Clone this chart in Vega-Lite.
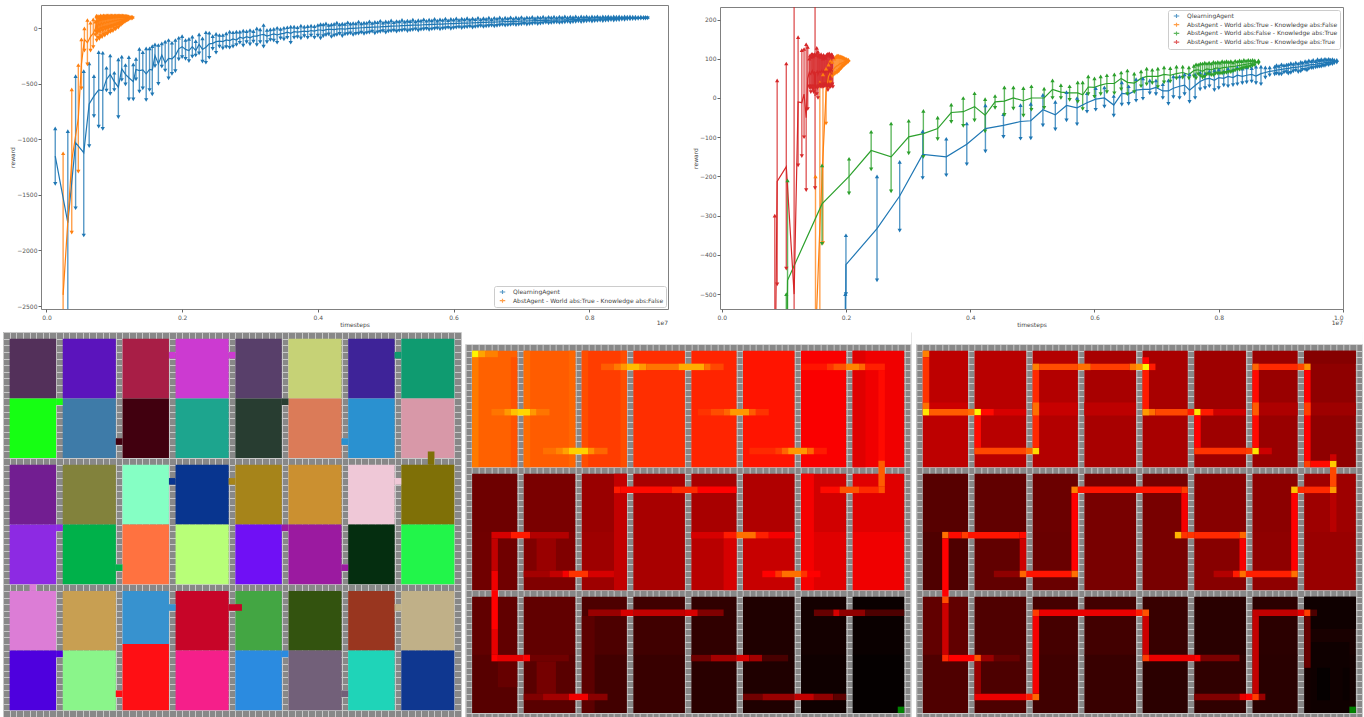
{"$schema":"https://vega.github.io/schema/vega-lite/v6.json","background":"white","padding":{"left":3,"top":4,"right":0,"bottom":0},
"config":{"view":{"stroke":null},"axis":{"grid":false,"domain":false,"labelFont":"DejaVu Sans","labelFontSize":6,"labelColor":"#555555","titleFont":"DejaVu Sans","titleFontSize":6,"titleFontWeight":"normal","titleColor":"#444444","tickColor":"#666666","tickSize":3,"labelPadding":2,"titlePadding":1},"legend":{"labelFont":"DejaVu Sans","labelFontSize":6,"labelColor":"#444444","labelLimit":300,"labelOffset":4,"fillColor":"white","strokeColor":"#cccccc","padding":2,"rowPadding":0.7,"cornerRadius":2,"titleFontSize":0,"clipHeight":8}},
"datasets":{
"L":[
{"a":"Q","x":0.013,"m":-1150,"l":-1400,"h":-900},{"a":"Q","x":0.0315,"m":-1750,"l":-2600,"h":-925},{"a":"Q","x":0.043,"m":-1030,"l":-1620,"h":-430},{"a":"Q","x":0.055,"m":-1120,"l":-1865,"h":-385},{"a":"Q","x":0.063,"m":-680,"l":-1060,"h":-315},{"a":"Q","x":0.07,"m":-610,"l":-790,"h":-430},{"a":"Q","x":0.077,"m":-555,"l":-885,"h":-215},{"a":"Q","x":0.083,"m":-560,"l":-905,"h":-220},{"a":"Q","x":0.0885,"m":-460,"l":-560,"h":-355},{"a":"Q","x":0.094,"m":-415,"l":-590,"h":-245},{"a":"Q","x":0.1,"m":-480,"l":-555,"h":-400},{"a":"Q","x":0.106,"m":-530,"l":-800,"h":-280},{"a":"Q","x":0.111,"m":-365,"l":-465,"h":-255},{"a":"Q","x":0.1165,"m":-415,"l":-505,"h":-330},{"a":"Q","x":0.1215,"m":-445,"l":-640,"h":-260},{"a":"Q","x":0.128,"m":-480,"l":-640,"h":-325},{"a":"Q","x":0.132,"m":-370,"l":-460,"h":-275},{"a":"Q","x":0.137,"m":-380,"l":-570,"h":-185},{"a":"Q","x":0.142,"m":-375,"l":-540,"h":-215},{"a":"Q","x":0.147,"m":-410,"l":-645,"h":-180},{"a":"Q","x":0.152,"m":-370,"l":-555,"h":-180},{"a":"Q","x":0.156,"m":-375,"l":-595,"h":-160},{"a":"Q","x":0.16,"m":-245,"l":-340,"h":-145},{"a":"Q","x":0.165,"m":-320,"l":-500,"h":-150},{"a":"Q","x":0.17,"m":-240,"l":-345,"h":-135},{"a":"Q","x":0.175,"m":-310,"l":-380,"h":-120},{"a":"Q","x":0.18,"m":-270,"l":-450,"h":-105},{"a":"Q","x":0.185,"m":-275,"l":-410,"h":-130},{"a":"Q","x":0.19,"m":-245,"l":-385,"h":-105},{"a":"Q","x":0.195,"m":-185,"l":-280,"h":-85},{"a":"Q","x":0.2,"m":-165,"l":-260,"h":-70},{"a":"Q","x":0.205,"m":-190,"l":-275,"h":-105},{"a":"Q","x":0.21,"m":-200,"l":-295,"h":-95},{"a":"Q","x":0.215,"m":-165,"l":-255,"h":-75},{"a":"Q","x":0.22,"m":-200,"l":-245,"h":-115},{"a":"Q","x":0.225,"m":-145,"l":-225,"h":-55},{"a":"Q","x":0.23,"m":-190,"l":-300,"h":-90},{"a":"Q","x":0.235,"m":-170,"l":-310,"h":-35},{"a":"Q","x":0.24,"m":-140,"l":-265,"h":-40},{"a":"Q","x":0.245,"m":-135,"l":-185,"h":-70},{"a":"Q","x":0.25,"m":-120,"l":-220,"h":-50},{"a":"Q","x":0.255,"m":-115,"l":-165,"h":-60},{"a":"Q","x":0.26,"m":-120,"l":-180,"h":-60},{"a":"Q","x":0.265,"m":-105,"l":-170,"h":-45},{"a":"Q","x":0.27,"m":-110,"l":-175,"h":-30},{"a":"Q","x":0.275,"m":-95,"l":-165,"h":-35},{"a":"Q","x":0.28,"m":-105,"l":-150,"h":-30},{"a":"Q","x":0.285,"m":-80,"l":-130,"h":-30},{"a":"Q","x":0.29,"m":-90,"l":-155,"h":-20},{"a":"Q","x":0.295,"m":-75,"l":-125,"h":-25},{"a":"Q","x":0.3,"m":-85,"l":-145,"h":-15},{"a":"Q","x":0.305,"m":-70,"l":-120,"h":-25},{"a":"Q","x":0.31,"m":-70,"l":-150,"h":0},{"a":"Q","x":0.315,"m":-60,"l":-125,"h":-10},{"a":"Q","x":0.32,"m":-55,"l":-165,"h":30},{"a":"Q","x":0.325,"m":-70,"l":-125,"h":-15},{"a":"Q","x":0.33,"m":-60,"l":-105,"h":-10},{"a":"Q","x":0.335,"m":-50,"l":-110,"h":-5},{"a":"Q","x":0.34,"m":-60,"l":-130,"h":5},{"a":"Q","x":0.345,"m":-50,"l":-90,"h":-5},{"a":"Q","x":0.35,"m":-45,"l":-100,"h":5},{"a":"Q","x":0.355,"m":-35,"l":-85,"h":10},{"a":"Q","x":0.36,"m":-45,"l":-130,"h":15},{"a":"Q","x":0.365,"m":-30,"l":-85,"h":15},{"a":"Q","x":0.37,"m":-35,"l":-80,"h":10},{"a":"Q","x":0.375,"m":-30,"l":-90,"h":25},{"a":"Q","x":0.38,"m":-25,"l":-70,"h":15},{"a":"Q","x":0.385,"m":-30,"l":-85,"h":20},{"a":"Q","x":0.39,"m":-20,"l":-65,"h":25},{"a":"Q","x":0.395,"m":-25,"l":-85,"h":20},{"a":"Q","x":0.4,"m":-15,"l":-65,"h":30},{"a":"Q","x":0.408,"m":-20,"l":-70,"h":35},{"a":"Q","x":0.416,"m":-10,"l":-55,"h":30},{"a":"Q","x":0.424,"m":-12,"l":-65,"h":40},{"a":"Q","x":0.432,"m":-5,"l":-50,"h":35},{"a":"Q","x":0.44,"m":-8,"l":-55,"h":40},{"a":"Q","x":0.448,"m":0,"l":-45,"h":42},{"a":"Q","x":0.456,"m":2,"l":-50,"h":45},{"a":"Q","x":0.464,"m":5,"l":-38,"h":45},{"a":"Q","x":0.472,"m":8,"l":-42,"h":50},{"a":"Q","x":0.48,"m":10,"l":-30,"h":48},{"a":"Q","x":0.488,"m":12,"l":-35,"h":55},{"a":"Q","x":0.496,"m":15,"l":-25,"h":52},{"a":"Q","x":0.504,"m":18,"l":-28,"h":58},{"a":"Q","x":0.512,"m":20,"l":-20,"h":55},{"a":"Q","x":0.52,"m":22,"l":-22,"h":62},{"a":"Q","x":0.528,"m":25,"l":-15,"h":60},{"a":"Q","x":0.536,"m":27,"l":-18,"h":65},{"a":"Q","x":0.544,"m":28,"l":-10,"h":62},{"a":"Q","x":0.552,"m":30,"l":-12,"h":70},{"a":"Q","x":0.56,"m":33,"l":-5,"h":68},{"a":"Q","x":0.568,"m":35,"l":-8,"h":72},{"a":"Q","x":0.576,"m":37,"l":0,"h":70},{"a":"Q","x":0.584,"m":38,"l":-3,"h":75},{"a":"Q","x":0.592,"m":41,"l":5,"h":73},{"a":"Q","x":0.6,"m":43,"l":2,"h":78},{"a":"Q","x":0.608,"m":44,"l":10,"h":76},{"a":"Q","x":0.616,"m":47,"l":8,"h":80},{"a":"Q","x":0.624,"m":48,"l":15,"h":78},{"a":"Q","x":0.632,"m":50,"l":12,"h":82},{"a":"Q","x":0.64,"m":52,"l":20,"h":80},{"a":"Q","x":0.648,"m":54,"l":18,"h":85},{"a":"Q","x":0.656,"m":56,"l":25,"h":83},{"a":"Q","x":0.664,"m":57,"l":22,"h":87},{"a":"Q","x":0.672,"m":59,"l":30,"h":85},{"a":"Q","x":0.68,"m":61,"l":28,"h":90},{"a":"Q","x":0.688,"m":62,"l":35,"h":87},{"a":"Q","x":0.696,"m":64,"l":33,"h":92},{"a":"Q","x":0.704,"m":66,"l":40,"h":90},{"a":"Q","x":0.712,"m":67,"l":38,"h":95},{"a":"Q","x":0.72,"m":69,"l":45,"h":92},{"a":"Q","x":0.728,"m":70,"l":43,"h":97},{"a":"Q","x":0.736,"m":72,"l":50,"h":94},{"a":"Q","x":0.744,"m":73,"l":48,"h":98},{"a":"Q","x":0.752,"m":74,"l":54,"h":96},{"a":"Q","x":0.76,"m":76,"l":52,"h":100},{"a":"Q","x":0.768,"m":77,"l":58,"h":98},{"a":"Q","x":0.776,"m":78,"l":56,"h":101},{"a":"Q","x":0.784,"m":79,"l":62,"h":99},{"a":"Q","x":0.792,"m":81,"l":60,"h":103},{"a":"Q","x":0.8,"m":82,"l":66,"h":101},{"a":"Q","x":0.808,"m":83,"l":65,"h":104},{"a":"Q","x":0.816,"m":85,"l":70,"h":102},{"a":"Q","x":0.824,"m":86,"l":69,"h":105},{"a":"Q","x":0.832,"m":87,"l":74,"h":103},{"a":"Q","x":0.84,"m":89,"l":73,"h":106},{"a":"Q","x":0.848,"m":90,"l":78,"h":104},{"a":"Q","x":0.856,"m":92,"l":80,"h":106},{"a":"Q","x":0.864,"m":93,"l":83,"h":105},{"a":"Q","x":0.872,"m":94,"l":85,"h":104},{"a":"Q","x":0.88,"m":95,"l":88,"h":103},{"a":"Q","x":0.886,"m":96,"l":90,"h":102},
{"a":"Q","x":0.404,"m":-15,"l":-90,"h":38},{"a":"Q","x":0.412,"m":-12,"l":-62,"h":45},{"a":"Q","x":0.42,"m":-10,"l":-78,"h":36},{"a":"Q","x":0.428,"m":-8,"l":-60,"h":52},{"a":"Q","x":0.436,"m":-5,"l":-70,"h":42},{"a":"Q","x":0.444,"m":-2,"l":-52,"h":55},{"a":"Q","x":0.452,"m":0,"l":-60,"h":48},{"a":"Q","x":0.46,"m":3,"l":-48,"h":60},{"a":"Q","x":0.468,"m":6,"l":-50,"h":52},{"a":"Q","x":0.476,"m":9,"l":-38,"h":62},{"a":"Q","x":0.484,"m":10,"l":-45,"h":58},{"a":"Q","x":0.492,"m":13,"l":-32,"h":68},{"a":"Q","x":0.5,"m":16,"l":-38,"h":62},{"a":"Q","x":0.508,"m":19,"l":-26,"h":72},{"a":"Q","x":0.516,"m":21,"l":-30,"h":66},{"a":"Q","x":0.524,"m":24,"l":-20,"h":76},{"a":"Q","x":0.532,"m":26,"l":-25,"h":70},{"a":"Q","x":0.54,"m":28,"l":-15,"h":78},{"a":"Q","x":0.548,"m":29,"l":-20,"h":74},{"a":"Q","x":0.556,"m":32,"l":-10,"h":82},{"a":"Q","x":0.564,"m":34,"l":-14,"h":78},{"a":"Q","x":0.572,"m":36,"l":-5,"h":85},{"a":"Q","x":0.58,"m":37,"l":-10,"h":82},{"a":"Q","x":0.588,"m":40,"l":0,"h":88},{"a":"Q","x":0.596,"m":42,"l":-5,"h":85},{"a":"Q","x":0.604,"m":44,"l":5,"h":90},{"a":"Q","x":0.612,"m":46,"l":2,"h":88},{"a":"Q","x":0.62,"m":47,"l":10,"h":92},{"a":"Q","x":0.628,"m":49,"l":7,"h":90},{"a":"Q","x":0.636,"m":51,"l":15,"h":95},{"a":"Q","x":0.644,"m":53,"l":12,"h":92},{"a":"Q","x":0.652,"m":55,"l":20,"h":97},{"a":"Q","x":0.66,"m":56,"l":18,"h":95},{"a":"Q","x":0.668,"m":58,"l":26,"h":98},{"a":"Q","x":0.676,"m":60,"l":24,"h":97},{"a":"Q","x":0.684,"m":61,"l":30,"h":100},{"a":"Q","x":0.692,"m":63,"l":29,"h":99},{"a":"Q","x":0.7,"m":65,"l":36,"h":102},{"a":"Q","x":0.708,"m":66,"l":34,"h":100},{"a":"Q","x":0.716,"m":68,"l":40,"h":103},{"a":"Q","x":0.724,"m":70,"l":38,"h":102},{"a":"Q","x":0.732,"m":71,"l":46,"h":105},{"a":"Q","x":0.74,"m":72,"l":44,"h":104},{"a":"Q","x":0.748,"m":74,"l":50,"h":106},{"a":"Q","x":0.756,"m":75,"l":48,"h":105},{"a":"Q","x":0.764,"m":76,"l":54,"h":107},{"a":"Q","x":0.772,"m":78,"l":52,"h":106},{"a":"Q","x":0.78,"m":79,"l":58,"h":108},{"a":"Q","x":0.788,"m":80,"l":56,"h":107},{"a":"Q","x":0.796,"m":81,"l":62,"h":108},{"a":"Q","x":0.804,"m":83,"l":60,"h":108},{"a":"Q","x":0.812,"m":84,"l":66,"h":109},{"a":"Q","x":0.82,"m":85,"l":65,"h":108},{"a":"Q","x":0.828,"m":87,"l":70,"h":109},{"a":"Q","x":0.836,"m":88,"l":70,"h":108},{"a":"Q","x":0.844,"m":89,"l":74,"h":108},{"a":"Q","x":0.852,"m":91,"l":76,"h":108},{"a":"Q","x":0.86,"m":92,"l":80,"h":107},{"a":"Q","x":0.868,"m":94,"l":82,"h":106},{"a":"Q","x":0.876,"m":95,"l":86,"h":105},{"a":"Q","x":0.883,"m":95,"l":88,"h":103},
{"a":"T","x":0.0246,"m":-2400,"l":-3700,"h":-1125},{"a":"T","x":0.0373,"m":-1190,"l":-1840,"h":-550},{"a":"T","x":0.047,"m":-810,"l":-1290,"h":-330},{"a":"T","x":0.0516,"m":-320,"l":-540,"h":-100},{"a":"T","x":0.056,"m":-100,"l":-200,"h":0},{"a":"T","x":0.0604,"m":-130,"l":-325,"h":75},{"a":"T","x":0.065,"m":-75,"l":-200,"h":50},{"a":"T","x":0.069,"m":-45,"l":-170,"h":80},{"a":"T","x":0.072,"m":-5,"l":-60,"h":60},{"a":"T","x":0.0737,"m":30,"l":-30,"h":115},{"a":"T","x":0.075,"m":10,"l":-40,"h":70},{"a":"T","x":0.077,"m":40,"l":-15,"h":95},{"a":"T","x":0.079,"m":25,"l":-30,"h":80},{"a":"T","x":0.081,"m":50,"l":-5,"h":100},{"a":"T","x":0.083,"m":35,"l":-20,"h":88},{"a":"T","x":0.085,"m":55,"l":5,"h":105},{"a":"T","x":0.087,"m":45,"l":-10,"h":92},{"a":"T","x":0.089,"m":60,"l":10,"h":108},{"a":"T","x":0.091,"m":50,"l":0,"h":98},{"a":"T","x":0.093,"m":62,"l":15,"h":106},{"a":"T","x":0.095,"m":58,"l":10,"h":103},{"a":"T","x":0.097,"m":68,"l":22,"h":110},{"a":"T","x":0.099,"m":64,"l":20,"h":106},{"a":"T","x":0.101,"m":72,"l":30,"h":112},{"a":"T","x":0.103,"m":70,"l":30,"h":108},{"a":"T","x":0.105,"m":76,"l":38,"h":113},{"a":"T","x":0.107,"m":75,"l":40,"h":110},{"a":"T","x":0.109,"m":80,"l":48,"h":113},{"a":"T","x":0.111,"m":80,"l":52,"h":110},{"a":"T","x":0.113,"m":84,"l":58,"h":112},{"a":"T","x":0.115,"m":86,"l":64,"h":110},{"a":"T","x":0.117,"m":88,"l":68,"h":110},{"a":"T","x":0.119,"m":90,"l":74,"h":108},{"a":"T","x":0.121,"m":92,"l":78,"h":108},{"a":"T","x":0.123,"m":94,"l":84,"h":106},{"a":"T","x":0.125,"m":96,"l":88,"h":105},{"a":"T","x":0.127,"m":97,"l":90,"h":104},
{"a":"T","x":0.074,"m":28,"l":-110,"h":105},{"a":"T","x":0.076,"m":32,"l":-85,"h":112},{"a":"T","x":0.078,"m":35,"l":-95,"h":108},{"a":"T","x":0.08,"m":40,"l":-70,"h":118},{"a":"T","x":0.082,"m":42,"l":-80,"h":112},{"a":"T","x":0.084,"m":46,"l":-55,"h":118},{"a":"T","x":0.086,"m":48,"l":-65,"h":115},{"a":"T","x":0.088,"m":52,"l":-45,"h":118},{"a":"T","x":0.09,"m":54,"l":-50,"h":116},{"a":"T","x":0.092,"m":58,"l":-30,"h":118},{"a":"T","x":0.094,"m":60,"l":-35,"h":116},{"a":"T","x":0.096,"m":62,"l":-20,"h":118},{"a":"T","x":0.098,"m":65,"l":-25,"h":116},{"a":"T","x":0.1,"m":68,"l":-5,"h":118},{"a":"T","x":0.102,"m":70,"l":-10,"h":116},{"a":"T","x":0.104,"m":72,"l":10,"h":118},{"a":"T","x":0.106,"m":75,"l":5,"h":116},{"a":"T","x":0.108,"m":78,"l":25,"h":118},{"a":"T","x":0.11,"m":80,"l":30,"h":116},{"a":"T","x":0.112,"m":82,"l":42,"h":116},{"a":"T","x":0.114,"m":85,"l":50,"h":115},{"a":"T","x":0.116,"m":87,"l":60,"h":114},{"a":"T","x":0.118,"m":89,"l":68,"h":113},{"a":"T","x":0.12,"m":91,"l":75,"h":111}
],
"Lt":[{"x":0.916,"y":-2527,"t":"1e7"}],
"Rt":[{"x":1.0,"y":-538,"t":"1e7"}],
"Rd":[
{"a":"Q","x":0.199,"m":-800,"l":-1100,"h":-500},{"a":"Q","x":0.2,"m":-425,"l":-500,"h":-350},{"a":"Q","x":0.25,"m":-333,"l":-465,"h":-200},{"a":"Q","x":0.2865,"m":-250,"l":-338,"h":-163},{"a":"Q","x":0.3235,"m":-144,"l":-204,"h":-85},{"a":"Q","x":0.3615,"m":-150,"l":-197,"h":-104},{"a":"Q","x":0.3945,"m":-118,"l":-169,"h":-65},{"a":"Q","x":0.4245,"m":-78,"l":-136,"h":-19},{"a":"Q","x":0.4535,"m":-70,"l":-99,"h":-41},{"a":"Q","x":0.481,"m":-60,"l":-104,"h":-18},{"a":"Q","x":0.4975,"m":-58,"l":-103,"h":-15},{"a":"Q","x":0.517,"m":-30,"l":-70,"h":8},{"a":"Q","x":0.537,"m":-43,"l":-80,"h":-10},{"a":"Q","x":0.555,"m":-19,"l":-57,"h":15},{"a":"Q","x":0.572,"m":-25,"l":-67,"h":0},{"a":"Q","x":0.588,"m":-12,"l":-35,"h":12},{"a":"Q","x":0.602,"m":-3,"l":-30,"h":25},{"a":"Q","x":0.616,"m":0,"l":-22,"h":27},{"a":"Q","x":0.631,"m":-18,"l":-45,"h":5},{"a":"Q","x":0.644,"m":12,"l":-17,"h":40},{"a":"Q","x":0.655,"m":10,"l":-15,"h":30},{"a":"Q","x":0.667,"m":20,"l":-7,"h":48},{"a":"Q","x":0.678,"m":22,"l":-2,"h":50},{"a":"Q","x":0.689,"m":22,"l":12,"h":45},{"a":"Q","x":0.699,"m":27,"l":10,"h":45},{"a":"Q","x":0.71,"m":18,"l":0,"h":35},{"a":"Q","x":0.719,"m":18,"l":-15,"h":45},{"a":"Q","x":0.727,"m":25,"l":2,"h":55},{"a":"Q","x":0.737,"m":30,"l":0,"h":55},{"a":"Q","x":0.745,"m":33,"l":10,"h":60},{"a":"Q","x":0.753,"m":20,"l":-10,"h":60},{"a":"Q","x":0.762,"m":32,"l":0,"h":60},{"a":"Q","x":0.77,"m":42,"l":22,"h":65},{"a":"Q","x":0.778,"m":48,"l":25,"h":62},{"a":"Q","x":0.785,"m":50,"l":30,"h":68},{"a":"Q","x":0.793,"m":45,"l":20,"h":70},{"a":"Q","x":0.8,"m":52,"l":25,"h":72},{"a":"Q","x":0.808,"m":50,"l":32,"h":68},{"a":"Q","x":0.815,"m":55,"l":30,"h":75},{"a":"Q","x":0.823,"m":52,"l":33,"h":72},{"a":"Q","x":0.83,"m":58,"l":35,"h":78},{"a":"Q","x":0.838,"m":55,"l":38,"h":75},{"a":"Q","x":0.845,"m":58,"l":40,"h":78},{"a":"Q","x":0.853,"m":60,"l":42,"h":76},{"a":"Q","x":0.86,"m":56,"l":38,"h":80},{"a":"Q","x":0.868,"m":62,"l":35,"h":80},{"a":"Q","x":0.875,"m":65,"l":52,"h":78},{"a":"Q","x":0.882,"m":68,"l":58,"h":78},{"a":"Q","x":0.89,"m":70,"l":60,"h":80},{"a":"Q","x":0.897,"m":72,"l":60,"h":82},{"a":"Q","x":0.905,"m":74,"l":65,"h":84},{"a":"Q","x":0.912,"m":75,"l":62,"h":86},{"a":"Q","x":0.92,"m":78,"l":68,"h":87},{"a":"Q","x":0.928,"m":79,"l":66,"h":88},{"a":"Q","x":0.935,"m":81,"l":72,"h":90},{"a":"Q","x":0.942,"m":83,"l":70,"h":92},{"a":"Q","x":0.949,"m":85,"l":76,"h":94},{"a":"Q","x":0.956,"m":86,"l":78,"h":94},{"a":"Q","x":0.962,"m":88,"l":80,"h":96},{"a":"Q","x":0.968,"m":89,"l":82,"h":97},{"a":"Q","x":0.974,"m":91,"l":85,"h":98},{"a":"Q","x":0.98,"m":92,"l":87,"h":98},{"a":"Q","x":0.986,"m":93,"l":89,"h":97},{"a":"Q","x":0.99,"m":94,"l":90,"h":97},
{"a":"Q","x":0.893,"m":71,"l":62,"h":84},{"a":"Q","x":0.901,"m":73,"l":60,"h":86},{"a":"Q","x":0.909,"m":75,"l":66,"h":85},{"a":"Q","x":0.916,"m":77,"l":64,"h":89},{"a":"Q","x":0.924,"m":78,"l":70,"h":90},{"a":"Q","x":0.932,"m":80,"l":68,"h":92},{"a":"Q","x":0.939,"m":82,"l":72,"h":94},{"a":"Q","x":0.945,"m":84,"l":74,"h":96},{"a":"Q","x":0.952,"m":85,"l":76,"h":97},{"a":"Q","x":0.959,"m":87,"l":79,"h":99},{"a":"Q","x":0.965,"m":88,"l":80,"h":99},{"a":"Q","x":0.971,"m":90,"l":82,"h":100},{"a":"Q","x":0.977,"m":91,"l":84,"h":100},{"a":"Q","x":0.983,"m":92,"l":86,"h":99},
{"a":"T","x":0.151,"m":-620,"l":-1200,"h":-200},{"a":"T","x":0.158,"m":-330,"l":-700,"h":40},{"a":"T","x":0.163,"m":-150,"l":-370,"h":60},{"a":"T","x":0.168,"m":15,"l":-65,"h":75},{"a":"T","x":0.172,"m":55,"l":28,"h":85},{"a":"T","x":0.175,"m":65,"l":40,"h":95},{"a":"T","x":0.178,"m":70,"l":55,"h":92},{"a":"T","x":0.181,"m":75,"l":60,"h":100},{"a":"T","x":0.184,"m":80,"l":65,"h":105},{"a":"T","x":0.187,"m":83,"l":68,"h":108},{"a":"T","x":0.19,"m":87,"l":72,"h":105},{"a":"T","x":0.193,"m":89,"l":76,"h":105},{"a":"T","x":0.196,"m":91,"l":82,"h":103},{"a":"T","x":0.199,"m":93,"l":86,"h":100},{"a":"T","x":0.202,"m":94,"l":90,"h":98},{"a":"T","x":0.204,"m":95,"l":92,"h":98},
{"a":"T","x":0.1825,"m":78,"l":62,"h":104},{"a":"T","x":0.1855,"m":82,"l":64,"h":108},{"a":"T","x":0.1885,"m":85,"l":68,"h":108},{"a":"T","x":0.1915,"m":88,"l":74,"h":106},{"a":"T","x":0.1945,"m":90,"l":80,"h":104},{"a":"T","x":0.1975,"m":92,"l":84,"h":102},{"a":"T","x":0.2005,"m":93,"l":88,"h":100},
{"a":"F","x":0.104,"m":-800,"l":-1200,"h":-500},{"a":"F","x":0.106,"m":-465,"l":-720,"h":-210},{"a":"F","x":0.1615,"m":-270,"l":-372,"h":-172},{"a":"F","x":0.205,"m":-200,"l":-243,"h":-155},{"a":"F","x":0.2406,"m":-134,"l":-182,"h":-86},{"a":"F","x":0.2727,"m":-150,"l":-238,"h":-65},{"a":"F","x":0.301,"m":-99,"l":-141,"h":-58},{"a":"F","x":0.3246,"m":-91,"l":-150,"h":-33},{"a":"F","x":0.3476,"m":-78,"l":-105,"h":-50},{"a":"F","x":0.3695,"m":-37,"l":-61,"h":-17},{"a":"F","x":0.3888,"m":-35,"l":-71,"h":0},{"a":"F","x":0.407,"m":-22,"l":-57,"h":12},{"a":"F","x":0.424,"m":-44,"l":-85,"h":-3},{"a":"F","x":0.44,"m":-10,"l":-25,"h":5},{"a":"F","x":0.455,"m":-8,"l":-43,"h":27},{"a":"F","x":0.4695,"m":0,"l":-27,"h":27},{"a":"F","x":0.4856,"m":-7,"l":-45,"h":25},{"a":"F","x":0.4985,"m":0,"l":-30,"h":30},{"a":"F","x":0.519,"m":0,"l":-25,"h":24},{"a":"F","x":0.5325,"m":22,"l":0,"h":45},{"a":"F","x":0.546,"m":15,"l":0,"h":33},{"a":"F","x":0.56,"m":13,"l":-5,"h":30},{"a":"F","x":0.573,"m":13,"l":-10,"h":40},{"a":"F","x":0.581,"m":8,"l":-28,"h":40},{"a":"F","x":0.59,"m":28,"l":10,"h":55},{"a":"F","x":0.6,"m":27,"l":3,"h":50},{"a":"F","x":0.61,"m":33,"l":10,"h":55},{"a":"F","x":0.62,"m":37,"l":15,"h":58},{"a":"F","x":0.632,"m":37,"l":12,"h":60},{"a":"F","x":0.643,"m":50,"l":22,"h":65},{"a":"F","x":0.653,"m":40,"l":10,"h":70},{"a":"F","x":0.664,"m":38,"l":15,"h":62},{"a":"F","x":0.675,"m":50,"l":30,"h":68},{"a":"F","x":0.684,"m":55,"l":35,"h":75},{"a":"F","x":0.693,"m":55,"l":38,"h":72},{"a":"F","x":0.702,"m":55,"l":28,"h":75},{"a":"F","x":0.712,"m":60,"l":40,"h":78},{"a":"F","x":0.722,"m":58,"l":42,"h":76},{"a":"F","x":0.732,"m":62,"l":50,"h":80},{"a":"F","x":0.742,"m":65,"l":52,"h":80},{"a":"F","x":0.752,"m":60,"l":50,"h":78},{"a":"F","x":0.76,"m":70,"l":55,"h":82},{"a":"F","x":0.767,"m":72,"l":60,"h":85},{"a":"F","x":0.774,"m":68,"l":52,"h":88},{"a":"F","x":0.781,"m":74,"l":60,"h":88},{"a":"F","x":0.788,"m":72,"l":58,"h":88},{"a":"F","x":0.795,"m":76,"l":62,"h":90},{"a":"F","x":0.802,"m":75,"l":62,"h":90},{"a":"F","x":0.809,"m":78,"l":64,"h":92},{"a":"F","x":0.816,"m":79,"l":66,"h":92},{"a":"F","x":0.823,"m":80,"l":68,"h":91},{"a":"F","x":0.83,"m":82,"l":72,"h":93},{"a":"F","x":0.837,"m":84,"l":75,"h":94},{"a":"F","x":0.844,"m":86,"l":78,"h":95},{"a":"F","x":0.851,"m":88,"l":80,"h":96},{"a":"F","x":0.858,"m":90,"l":84,"h":96},{"a":"F","x":0.864,"m":92,"l":88,"h":96},
{"a":"F","x":0.7635,"m":71,"l":50,"h":86},{"a":"F","x":0.7705,"m":70,"l":56,"h":88},{"a":"F","x":0.7775,"m":72,"l":54,"h":90},{"a":"F","x":0.7845,"m":73,"l":60,"h":90},{"a":"F","x":0.7915,"m":74,"l":58,"h":92},{"a":"F","x":0.7985,"m":76,"l":62,"h":92},{"a":"F","x":0.8055,"m":77,"l":62,"h":94},{"a":"F","x":0.8125,"m":78,"l":64,"h":94},{"a":"F","x":0.8195,"m":80,"l":66,"h":94},{"a":"F","x":0.8265,"m":81,"l":70,"h":95},{"a":"F","x":0.8335,"m":83,"l":72,"h":96},{"a":"F","x":0.8405,"m":85,"l":76,"h":97},{"a":"F","x":0.8475,"m":87,"l":78,"h":97},{"a":"F","x":0.8545,"m":89,"l":82,"h":97},
{"a":"B","x":0.0855,"m":-800,"l":-1500,"h":-300},{"a":"B","x":0.0893,"m":-213,"l":-475,"h":45},{"a":"B","x":0.104,"m":-175,"l":-435,"h":88},{"a":"B","x":0.1166,"m":-500,"l":-1400,"h":400},{"a":"B","x":0.123,"m":-10,"l":-172,"h":155},{"a":"B","x":0.129,"m":-12,"l":-148,"h":122},{"a":"B","x":0.1326,"m":10,"l":-100,"h":125},{"a":"B","x":0.136,"m":-50,"l":-235,"h":137},{"a":"B","x":0.1385,"m":50,"l":-28,"h":130},{"a":"B","x":0.141,"m":65,"l":30,"h":100},{"a":"B","x":0.1435,"m":60,"l":15,"h":105},{"a":"B","x":0.146,"m":70,"l":25,"h":112},{"a":"B","x":0.148,"m":62,"l":15,"h":110},{"a":"B","x":0.1503,"m":5,"l":-230,"h":240},{"a":"B","x":0.153,"m":65,"l":10,"h":128},{"a":"B","x":0.155,"m":60,"l":0,"h":118},{"a":"B","x":0.157,"m":68,"l":30,"h":108},{"a":"B","x":0.159,"m":65,"l":30,"h":105},{"a":"B","x":0.161,"m":70,"l":32,"h":108},{"a":"B","x":0.163,"m":62,"l":28,"h":100},{"a":"B","x":0.165,"m":68,"l":30,"h":105},{"a":"B","x":0.167,"m":65,"l":35,"h":102},{"a":"B","x":0.169,"m":72,"l":32,"h":110},{"a":"B","x":0.171,"m":68,"l":20,"h":112},{"a":"B","x":0.173,"m":70,"l":30,"h":114},{"a":"B","x":0.175,"m":66,"l":28,"h":108},{"a":"B","x":0.177,"m":72,"l":32,"h":112},{"a":"B","x":0.179,"m":68,"l":28,"h":105},
{"a":"B","x":0.142,"m":62,"l":25,"h":108},{"a":"B","x":0.1445,"m":66,"l":30,"h":112},{"a":"B","x":0.147,"m":64,"l":22,"h":106},{"a":"B","x":0.1493,"m":68,"l":30,"h":112},{"a":"B","x":0.1515,"m":65,"l":28,"h":110},{"a":"B","x":0.154,"m":70,"l":25,"h":115},{"a":"B","x":0.156,"m":64,"l":30,"h":108},{"a":"B","x":0.158,"m":66,"l":35,"h":110},{"a":"B","x":0.16,"m":68,"l":28,"h":112},{"a":"B","x":0.162,"m":66,"l":32,"h":106},{"a":"B","x":0.164,"m":70,"l":30,"h":110},{"a":"B","x":0.166,"m":64,"l":35,"h":106},{"a":"B","x":0.168,"m":68,"l":30,"h":108},{"a":"B","x":0.17,"m":70,"l":28,"h":112},{"a":"B","x":0.172,"m":66,"l":32,"h":110},{"a":"B","x":0.174,"m":72,"l":28,"h":112},{"a":"B","x":0.176,"m":68,"l":30,"h":108},{"a":"B","x":0.178,"m":70,"l":35,"h":110}
],
"A":[
{"k":"a00","x":1,"x2":8,"y":1,"y2":10},{"k":"a01","x":9,"x2":17,"y":1,"y2":10},{"k":"a02","x":18,"x2":25,"y":1,"y2":10},{"k":"a03","x":26,"x2":34,"y":1,"y2":10},{"k":"a04","x":35,"x2":42,"y":1,"y2":10},{"k":"a05","x":43,"x2":51,"y":1,"y2":10},{"k":"a06","x":52,"x2":59,"y":1,"y2":10},{"k":"a07","x":60,"x2":68,"y":1,"y2":10},
{"k":"a10","x":1,"x2":8,"y":10,"y2":19},{"k":"a11","x":9,"x2":17,"y":10,"y2":19},{"k":"a12","x":18,"x2":25,"y":10,"y2":19},{"k":"a13","x":26,"x2":34,"y":10,"y2":19},{"k":"a14","x":35,"x2":42,"y":10,"y2":19},{"k":"a15","x":43,"x2":51,"y":10,"y2":19},{"k":"a16","x":52,"x2":59,"y":10,"y2":19},{"k":"a17","x":60,"x2":68,"y":10,"y2":19},
{"k":"a20","x":1,"x2":8,"y":20,"y2":29},{"k":"a21","x":9,"x2":17,"y":20,"y2":29},{"k":"a22","x":18,"x2":25,"y":20,"y2":29},{"k":"a23","x":26,"x2":34,"y":20,"y2":29},{"k":"a24","x":35,"x2":42,"y":20,"y2":29},{"k":"a25","x":43,"x2":51,"y":20,"y2":29},{"k":"a26","x":52,"x2":59,"y":20,"y2":29},{"k":"a27","x":60,"x2":68,"y":20,"y2":29},
{"k":"a30","x":1,"x2":8,"y":29,"y2":38},{"k":"a31","x":9,"x2":17,"y":29,"y2":38},{"k":"a32","x":18,"x2":25,"y":29,"y2":38},{"k":"a33","x":26,"x2":34,"y":29,"y2":38},{"k":"a34","x":35,"x2":42,"y":29,"y2":38},{"k":"a35","x":43,"x2":51,"y":29,"y2":38},{"k":"a36","x":52,"x2":59,"y":29,"y2":38},{"k":"a37","x":60,"x2":68,"y":29,"y2":38},
{"k":"a40","x":1,"x2":8,"y":39,"y2":48},{"k":"a41","x":9,"x2":17,"y":39,"y2":48},{"k":"a42","x":18,"x2":25,"y":39,"y2":47},{"k":"a43","x":26,"x2":34,"y":39,"y2":48},{"k":"a44","x":35,"x2":42,"y":39,"y2":48},{"k":"a45","x":43,"x2":51,"y":39,"y2":48},{"k":"a46","x":52,"x2":59,"y":39,"y2":48},{"k":"a47","x":60,"x2":68,"y":39,"y2":48},
{"k":"a50","x":1,"x2":8,"y":48,"y2":57},{"k":"a51","x":9,"x2":17,"y":48,"y2":57},{"k":"a52","x":18,"x2":25,"y":47,"y2":57},{"k":"a53","x":26,"x2":34,"y":48,"y2":57},{"k":"a54","x":35,"x2":42,"y":48,"y2":57},{"k":"a55","x":43,"x2":51,"y":48,"y2":57},{"k":"a56","x":52,"x2":59,"y":48,"y2":57},{"k":"a57","x":60,"x2":68,"y":48,"y2":57},
{"k":"a03","x":25,"x2":26,"y":3,"y2":4},{"k":"a03","x":34,"x2":35,"y":3,"y2":4},{"k":"a07","x":59,"x2":60,"y":3,"y2":4},{"k":"a10","x":8,"x2":9,"y":10,"y2":11},{"k":"a12","x":17,"x2":18,"y":16,"y2":17},{"k":"a14","x":42,"x2":43,"y":10,"y2":11},{"k":"a16","x":51,"x2":52,"y":16,"y2":17},{"k":"a27","x":64,"x2":65,"y":18,"y2":20},{"k":"a23","x":25,"x2":26,"y":22,"y2":23},{"k":"a24","x":34,"x2":35,"y":22,"y2":23},{"k":"a26","x":59,"x2":60,"y":22,"y2":23},{"k":"a30","x":8,"x2":9,"y":29,"y2":30},{"k":"a31","x":17,"x2":18,"y":35,"y2":36},{"k":"a35","x":42,"x2":43,"y":29,"y2":30},{"k":"a35","x":51,"x2":52,"y":35,"y2":36},{"k":"a40","x":4,"x2":5,"y":38,"y2":39},{"k":"a42","x":25,"x2":26,"y":41,"y2":42},{"k":"a43","x":34,"x2":36,"y":41,"y2":42},{"k":"a47","x":59,"x2":60,"y":41,"y2":42},{"k":"a50","x":8,"x2":9,"y":48,"y2":49},{"k":"a52","x":17,"x2":18,"y":54,"y2":55},{"k":"a54","x":42,"x2":43,"y":48,"y2":49},{"k":"a55","x":51,"x2":52,"y":54,"y2":55}
],
"M":[
{"x":1,"x2":8,"y":1,"y2":19,"v":0.69},{"x":9,"x2":17,"y":1,"y2":19,"v":0.68},{"x":18,"x2":25,"y":1,"y2":19,"v":0.62},{"x":26,"x2":34,"y":1,"y2":19,"v":0.59},{"x":35,"x2":42,"y":1,"y2":19,"v":0.57},{"x":43,"x2":51,"y":1,"y2":19,"v":0.54},{"x":52,"x2":59,"y":1,"y2":19,"v":0.49},{"x":60,"x2":68,"y":1,"y2":19,"v":0.47},
{"x":1,"x2":8,"y":20,"y2":29.1,"v":0.215},{"x":9,"x2":17,"y":20,"y2":29.1,"v":0.24},{"x":18,"x2":25,"y":20,"y2":29.1,"v":0.3},{"x":26,"x2":34,"y":20,"y2":29.1,"v":0.33},{"x":35,"x2":42,"y":20,"y2":29.1,"v":0.33},{"x":43,"x2":51,"y":20,"y2":29.1,"v":0.345},{"x":52,"x2":59,"y":20,"y2":29.1,"v":0.41},{"x":60,"x2":68,"y":20,"y2":29.1,"v":0.44},
{"x":1,"x2":8,"y":29,"y2":38,"v":0.22},{"x":9,"x2":17,"y":29,"y2":38,"v":0.25},{"x":18,"x2":25,"y":29,"y2":38,"v":0.31},{"x":26,"x2":34,"y":29,"y2":38,"v":0.33},{"x":35,"x2":42,"y":29,"y2":38,"v":0.36},{"x":43,"x2":51,"y":29,"y2":38,"v":0.39},{"x":52,"x2":59,"y":29,"y2":38,"v":0.44},{"x":60,"x2":68,"y":29,"y2":38,"v":0.47},
{"x":1,"x2":8,"y":39,"y2":48.1,"v":0.19},{"x":9,"x2":17,"y":39,"y2":48.1,"v":0.19},{"x":18,"x2":25,"y":39,"y2":48.1,"v":0.15},{"x":26,"x2":34,"y":39,"y2":48.1,"v":0.125},{"x":35,"x2":42,"y":39,"y2":48.1,"v":0.095},{"x":43,"x2":51,"y":39,"y2":48.1,"v":0.06},{"x":52,"x2":59,"y":39,"y2":48.1,"v":0.04},{"x":60,"x2":68,"y":39,"y2":48.1,"v":0.02},
{"x":1,"x2":8,"y":48,"y2":57,"v":0.17},{"x":9,"x2":17,"y":48,"y2":57,"v":0.175},{"x":18,"x2":25,"y":48,"y2":57,"v":0.13},{"x":26,"x2":34,"y":48,"y2":57,"v":0.11},{"x":35,"x2":42,"y":48,"y2":57,"v":0.08},{"x":43,"x2":51,"y":48,"y2":57,"v":0.06},{"x":52,"x2":59,"y":48,"y2":57,"v":0.03},{"x":60,"x2":68,"y":48,"y2":57,"v":0.01},
{"x":1,"x2":2,"y":2,"y2":19,"v":0.74},{"x":7,"x2":8,"y":2,"y2":19,"v":0.66},{"x":9,"x2":10,"y":1,"y2":19,"v":0.71},{"x":16,"x2":17,"y":1,"y2":19,"v":0.7},{"x":18,"x2":19,"y":1,"y2":19,"v":0.65},{"x":24,"x2":25,"y":1,"y2":19,"v":0.65},{"x":60,"x2":62,"y":1,"y2":19,"v":0.44},
{"x":23,"x2":25,"y":20,"y2":38,"v":0.38},{"x":40,"x2":42,"y":30,"y2":38,"v":0.42},{"x":52,"x2":54,"y":20,"y2":38,"v":0.48},{"x":18,"x2":20,"y":42,"y2":57,"v":0.18},{"x":5,"x2":8,"y":49,"y2":53,"v":0.2},{"x":11,"x2":14,"y":30,"y2":35,"v":0.3},{"x":11,"x2":14,"y":49,"y2":54,"v":0.23},
{"x":1,"x2":2,"y":1,"y2":2,"v":0.98},{"x":2,"x2":3,"y":1,"y2":2,"v":0.82},{"x":3,"x2":5,"y":1,"y2":2,"v":0.75},
{"x":4,"x2":6,"y":10,"y2":11,"v":0.73},{"x":6,"x2":7,"y":10,"y2":11,"v":0.8},{"x":7,"x2":8,"y":10,"y2":11,"v":0.88},{"x":8,"x2":10,"y":10,"y2":11,"v":0.92},{"x":10,"x2":11,"y":10,"y2":11,"v":0.8},{"x":11,"x2":13,"y":10,"y2":11,"v":0.73},
{"x":12,"x2":14,"y":16,"y2":17,"v":0.72},{"x":14,"x2":15,"y":16,"y2":17,"v":0.76},{"x":15,"x2":16,"y":16,"y2":17,"v":0.82},{"x":16,"x2":19,"y":16,"y2":17,"v":0.91},{"x":19,"x2":20,"y":16,"y2":17,"v":0.78},{"x":20,"x2":22,"y":16,"y2":17,"v":0.7},
{"x":21,"x2":23,"y":3,"y2":4,"v":0.68},{"x":23,"x2":24,"y":3,"y2":4,"v":0.74},{"x":24,"x2":25,"y":3,"y2":4,"v":0.8},{"x":25,"x2":27,"y":3,"y2":4,"v":0.87},{"x":27,"x2":28,"y":3,"y2":4,"v":0.8},{"x":28,"x2":33,"y":3,"y2":4,"v":0.73},{"x":33,"x2":37,"y":3,"y2":4,"v":0.84},{"x":37,"x2":38,"y":3,"y2":4,"v":0.72},{"x":38,"x2":40,"y":3,"y2":4,"v":0.64},
{"x":36,"x2":38,"y":10,"y2":11,"v":0.6},{"x":38,"x2":40,"y":10,"y2":11,"v":0.65},{"x":40,"x2":41,"y":10,"y2":11,"v":0.7},{"x":41,"x2":44,"y":10,"y2":11,"v":0.8},{"x":44,"x2":45,"y":10,"y2":11,"v":0.68},{"x":45,"x2":47,"y":10,"y2":11,"v":0.6},
{"x":44,"x2":48,"y":16,"y2":17,"v":0.58},{"x":48,"x2":49,"y":16,"y2":17,"v":0.62},{"x":49,"x2":50,"y":16,"y2":17,"v":0.7},{"x":50,"x2":53,"y":16,"y2":17,"v":0.8},{"x":53,"x2":54,"y":16,"y2":17,"v":0.7},{"x":54,"x2":56,"y":16,"y2":17,"v":0.55},
{"x":52,"x2":56,"y":3,"y2":4,"v":0.54},{"x":56,"x2":57,"y":3,"y2":4,"v":0.6},{"x":57,"x2":59,"y":3,"y2":4,"v":0.66},{"x":59,"x2":61,"y":3,"y2":4,"v":0.76},{"x":61,"x2":62,"y":3,"y2":4,"v":0.7},{"x":62,"x2":65,"y":3,"y2":4,"v":0.56},
{"x":64,"x2":65,"y":4,"y2":18,"v":0.52},{"x":64,"x2":65,"y":18,"y2":22,"v":0.68},
{"x":23,"x2":24,"y":22,"y2":23,"v":0.55},{"x":24,"x2":32,"y":22,"y2":23,"v":0.52},{"x":32,"x2":36,"y":22,"y2":23,"v":0.58},{"x":36,"x2":42,"y":22,"y2":23,"v":0.5},
{"x":55,"x2":58,"y":22,"y2":23,"v":0.52},{"x":58,"x2":61,"y":22,"y2":23,"v":0.66},{"x":61,"x2":64,"y":22,"y2":23,"v":0.58},{"x":64,"x2":65,"y":22,"y2":23,"v":0.66},
{"x":4,"x2":7,"y":29,"y2":30,"v":0.42},{"x":7,"x2":10,"y":29,"y2":30,"v":0.55},{"x":10,"x2":16,"y":29,"y2":30,"v":0.35},
{"x":35,"x2":40,"y":29,"y2":30,"v":0.42},{"x":40,"x2":42,"y":29,"y2":30,"v":0.55},{"x":42,"x2":45,"y":29,"y2":30,"v":0.72},{"x":45,"x2":47,"y":29,"y2":30,"v":0.56},{"x":47,"x2":51,"y":29,"y2":30,"v":0.48},
{"x":4,"x2":5,"y":30,"y2":35,"v":0.38},{"x":4,"x2":5,"y":35,"y2":38,"v":0.47},{"x":4,"x2":5,"y":38,"y2":44,"v":0.5},{"x":4,"x2":5,"y":44,"y2":48,"v":0.45},
{"x":9,"x2":13,"y":35,"y2":36,"v":0.32},{"x":13,"x2":15,"y":35,"y2":36,"v":0.38},{"x":15,"x2":16,"y":35,"y2":36,"v":0.48},{"x":16,"x2":19,"y":35,"y2":36,"v":0.6},{"x":19,"x2":23,"y":35,"y2":36,"v":0.42},
{"x":46,"x2":48,"y":35,"y2":36,"v":0.5},{"x":48,"x2":49,"y":35,"y2":36,"v":0.6},{"x":49,"x2":52,"y":35,"y2":36,"v":0.72},{"x":52,"x2":53,"y":35,"y2":36,"v":0.6},{"x":53,"x2":55,"y":35,"y2":36,"v":0.5},
{"x":19,"x2":24,"y":41,"y2":42,"v":0.3},{"x":24,"x2":26,"y":41,"y2":42,"v":0.42},{"x":26,"x2":34,"y":41,"y2":42,"v":0.38},{"x":34,"x2":36,"y":41,"y2":42,"v":0.42},{"x":36,"x2":40,"y":41,"y2":42,"v":0.25},
{"x":54,"x2":57,"y":41,"y2":42,"v":0.2},{"x":57,"x2":58,"y":41,"y2":42,"v":0.42},{"x":58,"x2":62,"y":41,"y2":42,"v":0.28},{"x":62,"x2":68,"y":41,"y2":42,"v":0.15},
{"x":4,"x2":5,"y":48,"y2":49,"v":0.5},{"x":5,"x2":9,"y":48,"y2":49,"v":0.45},{"x":9,"x2":10,"y":48,"y2":49,"v":0.5},{"x":10,"x2":16,"y":48,"y2":49,"v":0.22},
{"x":35,"x2":38,"y":48,"y2":49,"v":0.22},{"x":38,"x2":42,"y":48,"y2":49,"v":0.32},{"x":42,"x2":44,"y":48,"y2":49,"v":0.42},{"x":44,"x2":46,"y":48,"y2":49,"v":0.32},{"x":46,"x2":50,"y":48,"y2":49,"v":0.14},
{"x":9,"x2":12,"y":54,"y2":55,"v":0.25},{"x":12,"x2":16,"y":54,"y2":55,"v":0.32},{"x":16,"x2":19,"y":54,"y2":55,"v":0.47},{"x":19,"x2":22,"y":54,"y2":55,"v":0.27},
{"x":43,"x2":46,"y":54,"y2":55,"v":0.22},{"x":46,"x2":51,"y":54,"y2":55,"v":0.3},{"x":51,"x2":54,"y":54,"y2":55,"v":0.38},{"x":54,"x2":57,"y":54,"y2":55,"v":0.28},{"x":57,"x2":59,"y":54,"y2":55,"v":0.18}
],
"R":[
{"x":1,"x2":8,"y":1,"y2":19,"v":0.37},{"x":9,"x2":17,"y":1,"y2":19,"v":0.36},{"x":18,"x2":25,"y":1,"y2":19,"v":0.35},{"x":26,"x2":34,"y":1,"y2":19,"v":0.33},{"x":35,"x2":42,"y":1,"y2":19,"v":0.33},{"x":43,"x2":51,"y":1,"y2":19,"v":0.31},{"x":52,"x2":59,"y":1,"y2":19,"v":0.3},{"x":60,"x2":68,"y":1,"y2":19,"v":0.28},
{"x":1,"x2":8,"y":20,"y2":29.1,"v":0.17},{"x":9,"x2":17,"y":20,"y2":29.1,"v":0.19},{"x":18,"x2":25,"y":20,"y2":29.1,"v":0.21},{"x":26,"x2":34,"y":20,"y2":29.1,"v":0.235},{"x":35,"x2":42,"y":20,"y2":29.1,"v":0.235},{"x":43,"x2":51,"y":20,"y2":29.1,"v":0.265},{"x":52,"x2":59,"y":20,"y2":29.1,"v":0.275},{"x":60,"x2":68,"y":20,"y2":29.1,"v":0.31},
{"x":1,"x2":8,"y":29,"y2":38,"v":0.155},{"x":9,"x2":17,"y":29,"y2":38,"v":0.19},{"x":18,"x2":25,"y":29,"y2":38,"v":0.205},{"x":26,"x2":34,"y":29,"y2":38,"v":0.235},{"x":35,"x2":42,"y":29,"y2":38,"v":0.235},{"x":43,"x2":51,"y":29,"y2":38,"v":0.265},{"x":52,"x2":59,"y":29,"y2":38,"v":0.28},{"x":60,"x2":68,"y":29,"y2":38,"v":0.3},
{"x":1,"x2":8,"y":39,"y2":48.1,"v":0.19},{"x":9,"x2":17,"y":39,"y2":48.1,"v":0.155},{"x":18,"x2":25,"y":39,"y2":48.1,"v":0.135},{"x":26,"x2":34,"y":39,"y2":48.1,"v":0.13},{"x":35,"x2":42,"y":39,"y2":48.1,"v":0.11},{"x":43,"x2":51,"y":39,"y2":48.1,"v":0.08},{"x":52,"x2":59,"y":39,"y2":48.1,"v":0.085},{"x":60,"x2":68,"y":39,"y2":48.1,"v":0.05},
{"x":1,"x2":8,"y":48,"y2":57,"v":0.155},{"x":9,"x2":17,"y":48,"y2":57,"v":0.15},{"x":18,"x2":25,"y":48,"y2":57,"v":0.125},{"x":26,"x2":34,"y":48,"y2":57,"v":0.11},{"x":35,"x2":42,"y":48,"y2":57,"v":0.085},{"x":43,"x2":51,"y":48,"y2":57,"v":0.095},{"x":52,"x2":59,"y":48,"y2":57,"v":0.08},{"x":60,"x2":68,"y":48,"y2":57,"v":0.04},
{"x":1,"x2":8,"y":9,"y2":11,"v":0.4},{"x":18,"x2":25,"y":9,"y2":11,"v":0.39},{"x":26,"x2":34,"y":9,"y2":11,"v":0.37},{"x":52,"x2":59,"y":9,"y2":11,"v":0.34},{"x":60,"x2":68,"y":9,"y2":11,"v":0.31},{"x":60,"x2":68,"y":1,"y2":3,"v":0.26},{"x":61,"x2":67,"y":46,"y2":57,"v":0.03},{"x":60,"x2":68,"y":39,"y2":44,"v":0.03},{"x":62,"x2":64,"y":50,"y2":55,"v":0.01},{"x":66,"x2":67,"y":50,"y2":55,"v":0.02},
{"x":1,"x2":2,"y":1,"y2":2,"v":0.75},{"x":1,"x2":2,"y":2,"y2":9,"v":0.6},{"x":1,"x2":2,"y":9,"y2":10,"v":0.72},{"x":1,"x2":2,"y":10,"y2":11,"v":0.95},{"x":2,"x2":8,"y":10,"y2":11,"v":0.68},{"x":8,"x2":9,"y":10,"y2":11,"v":0.72},{"x":9,"x2":10,"y":10,"y2":11,"v":0.98},{"x":10,"x2":12,"y":10,"y2":11,"v":0.52},{"x":12,"x2":17,"y":10,"y2":11,"v":0.42},
{"x":9,"x2":10,"y":11,"y2":16,"v":0.52},{"x":9,"x2":17,"y":16,"y2":17,"v":0.64},{"x":17,"x2":18,"y":16,"y2":17,"v":0.7},{"x":18,"x2":19,"y":16,"y2":17,"v":0.93},
{"x":18,"x2":19,"y":4,"y2":16,"v":0.58},{"x":18,"x2":19,"y":9,"y2":11,"v":0.72},{"x":18,"x2":19,"y":3,"y2":4,"v":0.75},{"x":19,"x2":25,"y":3,"y2":4,"v":0.65},{"x":25,"x2":27,"y":3,"y2":4,"v":0.72},{"x":27,"x2":33,"y":3,"y2":4,"v":0.62},{"x":33,"x2":34,"y":3,"y2":4,"v":0.74},{"x":34,"x2":35,"y":3,"y2":4,"v":0.8},{"x":35,"x2":36,"y":3,"y2":4,"v":0.98},{"x":36,"x2":37,"y":3,"y2":4,"v":0.55},{"x":35,"x2":36,"y":2,"y2":3,"v":0.5},
{"x":35,"x2":36,"y":4,"y2":10,"v":0.55},{"x":35,"x2":36,"y":10,"y2":11,"v":0.8},{"x":36,"x2":37,"y":10,"y2":11,"v":0.72},{"x":37,"x2":42,"y":10,"y2":11,"v":0.64},{"x":42,"x2":43,"y":10,"y2":11,"v":0.55},{"x":43,"x2":44,"y":10,"y2":11,"v":0.95},{"x":44,"x2":46,"y":10,"y2":11,"v":0.55},{"x":46,"x2":51,"y":10,"y2":11,"v":0.4},
{"x":43,"x2":44,"y":11,"y2":16,"v":0.5},{"x":43,"x2":51,"y":16,"y2":17,"v":0.6},{"x":51,"x2":52,"y":16,"y2":17,"v":0.62},{"x":52,"x2":53,"y":16,"y2":17,"v":0.95},{"x":53,"x2":55,"y":16,"y2":17,"v":0.4},
{"x":52,"x2":53,"y":4,"y2":16,"v":0.52},{"x":52,"x2":53,"y":9,"y2":11,"v":0.68},{"x":52,"x2":53,"y":3,"y2":4,"v":0.7},{"x":53,"x2":59,"y":3,"y2":4,"v":0.58},{"x":59,"x2":60,"y":3,"y2":4,"v":0.64},{"x":60,"x2":61,"y":3,"y2":4,"v":0.78},
{"x":60,"x2":61,"y":4,"y2":18,"v":0.5},{"x":60,"x2":61,"y":9,"y2":11,"v":0.62},{"x":60,"x2":61,"y":18,"y2":19,"v":0.62},{"x":61,"x2":64,"y":18,"y2":19,"v":0.52},{"x":64,"x2":65,"y":18,"y2":19,"v":0.9},{"x":64,"x2":65,"y":17,"y2":18,"v":0.4},{"x":64,"x2":65,"y":19,"y2":22,"v":0.64},{"x":64,"x2":65,"y":22,"y2":23,"v":0.8},{"x":60,"x2":64,"y":22,"y2":23,"v":0.58},{"x":59,"x2":60,"y":22,"y2":23,"v":0.58},{"x":58,"x2":59,"y":22,"y2":23,"v":0.88},{"x":64,"x2":65,"y":23,"y2":29,"v":0.36},
{"x":58,"x2":59,"y":23,"y2":35,"v":0.5},{"x":24,"x2":25,"y":22,"y2":23,"v":0.75},{"x":25,"x2":41,"y":22,"y2":23,"v":0.54},{"x":41,"x2":42,"y":22,"y2":23,"v":0.62},{"x":24,"x2":25,"y":23,"y2":35,"v":0.5},{"x":41,"x2":42,"y":23,"y2":29,"v":0.48},
{"x":4,"x2":5,"y":29,"y2":30,"v":0.72},{"x":5,"x2":7,"y":29,"y2":30,"v":0.52},{"x":7,"x2":8,"y":29,"y2":30,"v":0.62},{"x":8,"x2":16,"y":29,"y2":30,"v":0.54},{"x":16,"x2":17,"y":29,"y2":30,"v":0.52},{"x":16,"x2":17,"y":30,"y2":35,"v":0.4},
{"x":12,"x2":16,"y":35,"y2":36,"v":0.28},{"x":16,"x2":17,"y":35,"y2":36,"v":0.7},{"x":17,"x2":24,"y":35,"y2":36,"v":0.54},{"x":24,"x2":25,"y":35,"y2":36,"v":0.72},
{"x":41,"x2":42,"y":29,"y2":30,"v":0.6},{"x":40,"x2":41,"y":29,"y2":30,"v":0.85},{"x":42,"x2":43,"y":29,"y2":30,"v":0.6},{"x":43,"x2":50,"y":29,"y2":30,"v":0.58},{"x":50,"x2":51,"y":29,"y2":30,"v":0.7},{"x":50,"x2":51,"y":30,"y2":35,"v":0.48},
{"x":46,"x2":49,"y":35,"y2":36,"v":0.35},{"x":49,"x2":50,"y":35,"y2":36,"v":0.55},{"x":50,"x2":51,"y":35,"y2":36,"v":0.72},{"x":51,"x2":58,"y":35,"y2":36,"v":0.56},{"x":58,"x2":59,"y":35,"y2":36,"v":0.72},
{"x":4,"x2":5,"y":30,"y2":39,"v":0.5},{"x":4,"x2":5,"y":39,"y2":40,"v":0.65},{"x":4,"x2":5,"y":40,"y2":48,"v":0.4},{"x":4,"x2":5,"y":48,"y2":49,"v":0.58},{"x":5,"x2":9,"y":48,"y2":49,"v":0.5},{"x":9,"x2":10,"y":48,"y2":49,"v":0.66},{"x":10,"x2":12,"y":48,"y2":49,"v":0.3},{"x":12,"x2":16,"y":48,"y2":49,"v":0.2},
{"x":9,"x2":10,"y":49,"y2":54,"v":0.3},{"x":9,"x2":17,"y":54,"y2":55,"v":0.46},{"x":17,"x2":18,"y":54,"y2":55,"v":0.55},{"x":18,"x2":19,"y":54,"y2":55,"v":0.7},{"x":18,"x2":19,"y":42,"y2":54,"v":0.48},{"x":18,"x2":19,"y":41,"y2":42,"v":0.62},{"x":19,"x2":34,"y":41,"y2":42,"v":0.46},{"x":34,"x2":35,"y":41,"y2":42,"v":0.55},{"x":35,"x2":36,"y":41,"y2":42,"v":0.66},
{"x":35,"x2":36,"y":42,"y2":48,"v":0.4},{"x":35,"x2":36,"y":48,"y2":49,"v":0.62},{"x":36,"x2":43,"y":48,"y2":49,"v":0.46},{"x":43,"x2":44,"y":48,"y2":49,"v":0.5},{"x":44,"x2":50,"y":48,"y2":49,"v":0.24},
{"x":43,"x2":50,"y":54,"y2":55,"v":0.25},{"x":50,"x2":51,"y":54,"y2":55,"v":0.45},{"x":51,"x2":52,"y":54,"y2":55,"v":0.5},{"x":52,"x2":53,"y":54,"y2":55,"v":0.62},{"x":53,"x2":54,"y":54,"y2":55,"v":0.3},
{"x":52,"x2":53,"y":42,"y2":54,"v":0.38},{"x":52,"x2":59,"y":41,"y2":42,"v":0.38},{"x":59,"x2":60,"y":41,"y2":42,"v":0.45},{"x":60,"x2":61,"y":41,"y2":42,"v":0.62},{"x":61,"x2":62,"y":41,"y2":42,"v":0.15},{"x":60,"x2":61,"y":42,"y2":50,"v":0.2}
],
"G":[{"x":67,"x2":68,"y":56,"y2":57}],
"Cover":[{"x":-0.1,"x2":69.1,"y":-1.89,"y2":0}]
},
"vconcat":[
{"hconcat":[
{"width":1,"height":1,"data":{"values":[{"a":1}]},"mark":{"type":"point","opacity":0,"size":0}},
{"width":627,"height":304,"view":{"stroke":"#808080"},"data":{"name":"L"},
"layer":[
{"mark":{"type":"rule","clip":true,"opacity":0.75,"strokeWidth":1.4},"encoding":{"x":{"field":"x","type":"quantitative","scale":{"domain":[-0.008,0.916],"nice":false,"zero":false},"axis":{"values":[0,0.2,0.4,0.6,0.8],"format":".1f","title":"timesteps"}},"y":{"field":"l","type":"quantitative","scale":{"domain":[-2527,210],"nice":false,"zero":false},"axis":{"values":[0,-500,-1000,-1500,-2000,-2500],"format":"d","title":"reward","labelPadding":1}},"y2":{"field":"h"},"color":{"field":"a","type":"nominal","scale":{"domain":["Q","T"],"range":["#1f77b4","#ff7f0e"]},"legend":{"orient":"bottom-right","offset":2,"title":null,"symbolType":"M-0.5,0H0.5M0,-0.25V0.25M-0.1,-0.25H0.1M-0.1,0.25H0.1","symbolSize":121,"symbolStrokeWidth":1.2,"labelExpr":"{'Q':'QlearningAgent','T':'AbstAgent - World abs:True - Knowledge abs:False'}[datum.label]"}}}},
{"mark":{"type":"line","clip":true,"strokeWidth":1.2},"encoding":{"x":{"field":"x","type":"quantitative"},"y":{"field":"m","type":"quantitative"},"color":{"field":"a","type":"nominal"}}},
{"mark":{"type":"point","shape":"triangle-up","filled":true,"clip":true,"size":18,"opacity":1},"encoding":{"x":{"field":"x","type":"quantitative"},"y":{"field":"h","type":"quantitative"},"color":{"field":"a","type":"nominal"}}},
{"mark":{"type":"point","shape":"triangle-down","filled":true,"clip":true,"size":18,"opacity":1},"encoding":{"x":{"field":"x","type":"quantitative"},"y":{"field":"l","type":"quantitative"},"color":{"field":"a","type":"nominal"}}},
{"data":{"name":"Lt"},"mark":{"type":"text","align":"right","baseline":"top","dy":11,"font":"DejaVu Sans","fontSize":6,"color":"#444444"},"encoding":{"x":{"field":"x","type":"quantitative"},"y":{"field":"y","type":"quantitative"},"text":{"field":"t"}}}
]},
{"width":13,"height":1,"data":{"values":[{"a":1}]},"mark":{"type":"point","opacity":0,"size":0}},
{"vconcat":[
{"width":1,"height":1,"data":{"values":[{"a":1}]},"mark":{"type":"point","opacity":0,"size":0}},
{"width":623,"height":302,"view":{"stroke":"#808080"},"data":{"name":"Rd"},
"layer":[
{"mark":{"type":"rule","clip":true,"opacity":0.75,"strokeWidth":1.4},"encoding":{"x":{"field":"x","type":"quantitative","scale":{"domain":[-0.0027,1.0],"nice":false,"zero":false},"axis":{"values":[0,0.2,0.4,0.6,0.8,1.0],"format":".1f","title":"timesteps"}},"y":{"field":"l","type":"quantitative","scale":{"domain":[-538,232],"nice":false,"zero":false},"axis":{"values":[200,100,0,-100,-200,-300,-400,-500],"format":"d","title":"reward","labelPadding":1}},"y2":{"field":"h"},"color":{"field":"a","type":"nominal","scale":{"domain":["Q","T","F","B"],"range":["#1f77b4","#ff7f0e","#2ca02c","#d62728"]},"legend":{"orient":"top-right","offset":3,"title":null,"symbolType":"M-0.5,0H0.5M0,-0.25V0.25M-0.1,-0.25H0.1M-0.1,0.25H0.1","symbolSize":121,"symbolStrokeWidth":1.2,"labelExpr":"{'Q':'QlearningAgent','T':'AbstAgent - World abs:True - Knowledge abs:False','F':'AbstAgent - World abs:False - Knowledge abs:True','B':'AbstAgent - World abs:True - Knowledge abs:True'}[datum.label]"}}}},
{"mark":{"type":"line","clip":true,"strokeWidth":1.2},"encoding":{"x":{"field":"x","type":"quantitative"},"y":{"field":"m","type":"quantitative"},"color":{"field":"a","type":"nominal"}}},
{"mark":{"type":"point","shape":"triangle-up","filled":true,"clip":true,"size":18,"opacity":1},"encoding":{"x":{"field":"x","type":"quantitative"},"y":{"field":"h","type":"quantitative"},"color":{"field":"a","type":"nominal"}}},
{"mark":{"type":"point","shape":"triangle-down","filled":true,"clip":true,"size":18,"opacity":1},"encoding":{"x":{"field":"x","type":"quantitative"},"y":{"field":"l","type":"quantitative"},"color":{"field":"a","type":"nominal"}}},
{"data":{"name":"Rt"},"mark":{"type":"text","align":"right","baseline":"top","dy":11,"font":"DejaVu Sans","fontSize":6,"color":"#444444"},"encoding":{"x":{"field":"x","type":"quantitative"},"y":{"field":"y","type":"quantitative"},"text":{"field":"t"}}}
]}
],"spacing":0,"resolve":{"scale":{"color":"independent"},"legend":{"color":"independent"}}}
],"spacing":5,"resolve":{"scale":{"color":"independent"},"legend":{"color":"independent"}}},
{"hconcat":[
{"width":458,"height":385,"view":{"fill":"#888888"},"data":{"name":"A"},"mark":{"type":"rect"},"encoding":{"x":{"field":"x","type":"quantitative","scale":{"domain":[0,69],"nice":false,"zero":false},"axis":{"domain":false,"ticks":false,"labels":false,"title":null,"grid":true,"gridColor":"#c8c8c8","gridWidth":1,"tickCount":69}},"x2":{"field":"x2"},"y":{"field":"y","type":"quantitative","scale":{"domain":[0,58],"nice":false,"zero":false,"reverse":true},"axis":{"domain":false,"ticks":false,"labels":false,"title":null,"grid":true,"gridColor":"#c8c8c8","gridWidth":1,"tickCount":58}},"y2":{"field":"y2"},"color":{"field":"k","type":"nominal","legend":null,"scale":{"domain":["a00","a01","a02","a03","a04","a05","a06","a07","a10","a11","a12","a13","a14","a15","a16","a17","a20","a21","a22","a23","a24","a25","a26","a27","a30","a31","a32","a33","a34","a35","a36","a37","a40","a41","a42","a43","a44","a45","a46","a47","a50","a51","a52","a53","a54","a55","a56","a57"],"range":["#53305a","#5b14bc","#a81e46","#cc3ad1","#583f6a","#c6d276","#3e2398","#0f9b70","#16ff13","#3e7ba8","#41000f","#1da58e","#283d31","#db7b58","#2a91d0","#d898a8","#721e91","#82823c","#85ffc4","#08358f","#a6841a","#cb9030","#efc8d7","#7f7007","#8d2ae3","#00b14a","#ff7240","#b8ff78","#7010f5","#9b1aa0","#052e10","#22f54a","#dc7dd6","#c89f52","#3792cf","#c70528","#43a643","#33530f","#99361f","#c0b088","#4e00de","#8af58a","#ff0f14","#f51f8a","#2b8be0","#726079","#1fd4b8","#0f3790"]}}}},
{"width":445,"height":385,"view":{"fill":"#888888"},"layer":[
{"data":{"name":"M"},"mark":{"type":"rect"},"encoding":{"x":{"field":"x","type":"quantitative","scale":{"domain":[0,69],"nice":false,"zero":false},"axis":{"domain":false,"ticks":false,"labels":false,"title":null,"grid":true,"gridColor":"#c8c8c8","gridWidth":1,"tickCount":69}},"x2":{"field":"x2"},"y":{"field":"y","type":"quantitative","scale":{"domain":[-1.89,57.6],"nice":false,"zero":false,"reverse":true},"axis":{"domain":false,"ticks":false,"labels":false,"title":null,"grid":true,"gridColor":"#c8c8c8","gridWidth":1,"tickCount":60}},"y2":{"field":"y2"},"color":{"field":"v","type":"quantitative","legend":null,"scale":{"domain":[0,0.5,1],"range":["#000000","#ff0000","#ffff00"],"interpolate":"rgb"}}}},
{"data":{"name":"G"},"mark":{"type":"rect","color":"#008000"},"encoding":{"x":{"field":"x","type":"quantitative"},"x2":{"field":"x2"},"y":{"field":"y","type":"quantitative"},"y2":{"field":"y2"}}},
{"data":{"name":"Cover"},"mark":{"type":"rect","color":"white"},"encoding":{"x":{"field":"x","type":"quantitative"},"x2":{"field":"x2"},"y":{"field":"y","type":"quantitative"},"y2":{"field":"y2"}}}
]},
{"width":446,"height":385,"view":{"fill":"#888888"},"layer":[
{"data":{"name":"R"},"mark":{"type":"rect"},"encoding":{"x":{"field":"x","type":"quantitative","scale":{"domain":[0,69],"nice":false,"zero":false},"axis":{"domain":false,"ticks":false,"labels":false,"title":null,"grid":true,"gridColor":"#c8c8c8","gridWidth":1,"tickCount":69}},"x2":{"field":"x2"},"y":{"field":"y","type":"quantitative","scale":{"domain":[-1.89,57.6],"nice":false,"zero":false,"reverse":true},"axis":{"domain":false,"ticks":false,"labels":false,"title":null,"grid":true,"gridColor":"#c8c8c8","gridWidth":1,"tickCount":60}},"y2":{"field":"y2"},"color":{"field":"v","type":"quantitative","legend":null,"scale":{"domain":[0,0.5,1],"range":["#000000","#ff0000","#ffff00"],"interpolate":"rgb"}}}},
{"data":{"name":"G"},"mark":{"type":"rect","color":"#008000"},"encoding":{"x":{"field":"x","type":"quantitative"},"x2":{"field":"x2"},"y":{"field":"y","type":"quantitative"},"y2":{"field":"y2"}}},
{"data":{"name":"Cover"},"mark":{"type":"rect","color":"white"},"encoding":{"x":{"field":"x","type":"quantitative"},"x2":{"field":"x2"},"y":{"field":"y","type":"quantitative"},"y2":{"field":"y2"}}}
]}
],"spacing":3.65,"resolve":{"scale":{"color":"independent"},"legend":{"color":"independent"}}}
],"spacing":4,"resolve":{"legend":{"color":"independent"},"scale":{"color":"independent"}}}
